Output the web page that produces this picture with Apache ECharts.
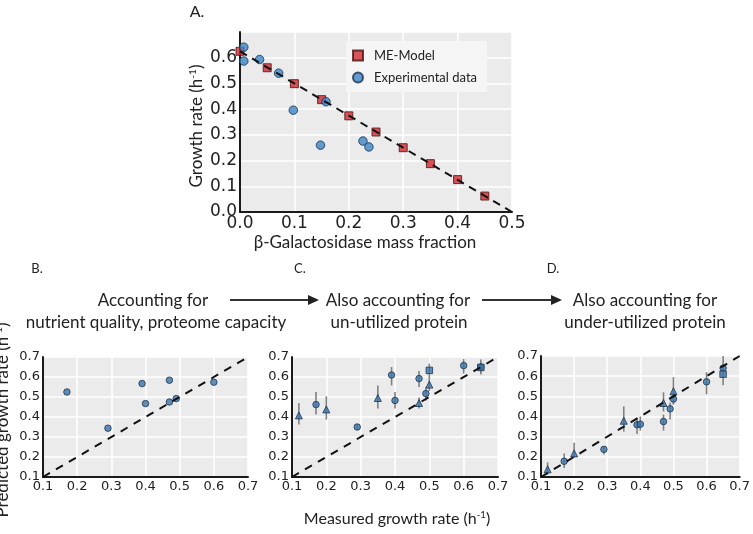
<!DOCTYPE html>
<html>
<head>
<meta charset="utf-8">
<script src="https://cdn.jsdelivr.net/npm/echarts@6/dist/echarts.min.js"></script>
<style>
  html, body { margin: 0; padding: 0; background: #fff; }
  #chart { width: 753px; height: 534px; }
</style>
</head>
<body>
<div id="chart"></div>
<script>
// panel A: growth rate vs beta-galactosidase mass fraction
const modelA = [[0, 0.625], [0.05, 0.561], [0.1, 0.499], [0.15, 0.437], [0.2, 0.374],
  [0.25, 0.311], [0.3, 0.25], [0.35, 0.188], [0.4, 0.126], [0.45, 0.062]];
const exprA = [[0.007, 0.641], [0.007, 0.587], [0.036, 0.593], [0.071, 0.54], [0.098, 0.396],
  [0.158, 0.429], [0.148, 0.26], [0.226, 0.276], [0.237, 0.253]];
const fitA = [[0, 0.625], [0.5, 0]];

// panels B-D: predicted vs measured, [x, y] or [x, y, low, high]
const panelB = [[0.17, 0.525], [0.29, 0.344], [0.39, 0.567], [0.40, 0.467],
  [0.47, 0.584], [0.47, 0.475], [0.49, 0.492], [0.60, 0.574]];
const circlesC = [[0.17, 0.462, 0.413, 0.525], [0.29, 0.35, 0.335, 0.365], [0.39, 0.61, 0.558, 0.65],
  [0.40, 0.483, 0.442, 0.525], [0.47, 0.592, 0.55, 0.63], [0.49, 0.517, 0.483, 0.547],
  [0.60, 0.657, 0.617, 0.69], [0.65, 0.65, 0.613, 0.687]];
const trianglesC = [[0.12, 0.408, 0.363, 0.47], [0.20, 0.438, 0.387, 0.503], [0.35, 0.495, 0.442, 0.557],
  [0.47, 0.47, 0.442, 0.497], [0.50, 0.562, 0.53, 0.6]];
const squaresC = [[0.50, 0.633, 0.6, 0.667], [0.65, 0.648, 0.62, 0.675]];
const circlesD = [[0.17, 0.178, 0.145, 0.217], [0.29, 0.237, 0.212, 0.253], [0.39, 0.359, 0.313, 0.39],
  [0.40, 0.362, 0.33, 0.4], [0.47, 0.375, 0.33, 0.41], [0.49, 0.438, 0.385, 0.47],
  [0.50, 0.487, 0.46, 0.51], [0.60, 0.572, 0.51, 0.62], [0.65, 0.64, 0.61, 0.7]];
const trianglesD = [[0.12, 0.138, 0.112, 0.173], [0.20, 0.217, 0.195, 0.27], [0.35, 0.379, 0.325, 0.45],
  [0.47, 0.467, 0.425, 0.52], [0.50, 0.525, 0.46, 0.595]];
const squaresD = [[0.65, 0.61, 0.555, 0.65]];
const diagonal = [[0.1, 0.1], [0.7, 0.7]];

const tickFont = 'DejaVu Sans';
const textFont = 'Lato';
const dotBlue = '#3b74a6';

let chart = echarts.init(document.getElementById('chart'));

function axisPair(idx, min, max, size, hideTopY) {
  let common = {
    gridIndex: idx, type: 'value', min: min, max: max, interval: 0.1,
    axisLine: { show: true, onZero: false, lineStyle: { color: '#1a1a1a', width: 2 } },
    axisTick: { show: false },
    splitLine: { show: true, lineStyle: { color: '#ffffff', width: 1.5 } },
  };
  let x = Object.assign({}, common, {
    axisLabel: { fontFamily: tickFont, fontSize: size, color: '#222', margin: 3,
      formatter: v => v.toFixed(1) }
  });
  let y = Object.assign({}, common, {
    axisLabel: { fontFamily: tickFont, fontSize: size, color: '#222', margin: 3,
      formatter: v => (hideTopY && v > 0.65) ? '' : v.toFixed(1) }
  });
  return [x, y];
}

function errBars(idx, arr) {
  return {
    type: 'custom', xAxisIndex: idx, yAxisIndex: idx, data: arr, z: 2,
    encode: { x: 0, y: 1 },
    renderItem: (params, api) => {
      let p1 = api.coord([api.value(0), api.value(2)]);
      let p2 = api.coord([api.value(0), api.value(3)]);
      return { type: 'line', shape: { x1: p1[0], y1: p1[1], x2: p2[0], y2: p2[1] },
        style: { stroke: '#808080', lineWidth: 1.6 } };
    }
  };
}

function dots(idx, arr, symbol, size) {
  return {
    type: 'scatter', xAxisIndex: idx, yAxisIndex: idx, data: arr, z: 3,
    symbol: symbol, symbolSize: size,
    itemStyle: { color: dotBlue, borderColor: '#1c3550', borderWidth: 1 }
  };
}

function diag(idx) {
  return {
    type: 'line', xAxisIndex: idx, yAxisIndex: idx, data: diagonal, z: 4,
    symbol: 'none', lineStyle: { color: '#111', width: 2, type: [8, 7] }
  };
}

let aA = axisPair(0, 0, 0.7, 17, true);
aA[0].max = 0.5;
let aB = axisPair(1, 0.1, 0.7, 13, false);
let aC = axisPair(2, 0.1, 0.7, 13, false);
let aD = axisPair(3, 0.1, 0.7, 13, false);

function txt(x, y, text, size, extra) {
  return Object.assign({
    type: 'text', x: x, y: y,
    style: Object.assign({ text: text, fontFamily: textFont, fontSize: size, fill: '#222',
      align: 'center', verticalAlign: 'middle',
      rich: { sup: { fontSize: size * 0.6, verticalAlign: 'top', padding: [0, 0, size * 0.5, 0],
        fontFamily: textFont, fill: '#222' } } }, extra || {})
  });
}

function arrow(x1, x2, y) {
  return [
    { type: 'line', shape: { x1: x1, y1: y, x2: x2 - 8, y2: y }, style: { stroke: '#333', lineWidth: 2 } },
    { type: 'polygon', shape: { points: [[x2, y], [x2 - 11, y - 5], [x2 - 11, y + 5]] }, style: { fill: '#222' } }
  ];
}

chart.setOption({
  animation: false,
  grid: [
    { left: 240, top: 32, width: 272, height: 180, show: true, backgroundColor: '#ebebeb', borderWidth: 0 },
    { left: 43, top: 357, width: 205, height: 120, show: true, backgroundColor: '#ebebeb', borderWidth: 0 },
    { left: 292, top: 357, width: 206, height: 120, show: true, backgroundColor: '#ebebeb', borderWidth: 0 },
    { left: 541, top: 356, width: 211, height: 121, show: true, backgroundColor: '#ebebeb', borderWidth: 0 }
  ],
  xAxis: [aA[0], aB[0], aC[0], aD[0]],
  yAxis: [aA[1], aB[1], aC[1], aD[1]],
  legend: {
    left: 346, top: 41, orient: 'vertical', itemGap: 9, itemWidth: 10, itemHeight: 10,
    padding: [8, 10, 8, 6], backgroundColor: '#f5f5f5',
    textStyle: { fontFamily: textFont, fontSize: 13, color: '#222', padding: [0, 0, 0, 6] },
    data: ['ME-Model', 'Experimental data']
  },
  series: [
    { name: 'ME-Model', type: 'scatter', xAxisIndex: 0, yAxisIndex: 0, data: modelA, z: 3,
      symbol: 'rect', symbolSize: 8,
      itemStyle: { color: '#d12a2f', borderColor: '#4a1010', borderWidth: 1 } },
    { name: 'Experimental data', type: 'scatter', xAxisIndex: 0, yAxisIndex: 0, data: exprA, z: 3,
      symbol: 'circle', symbolSize: 8.5,
      itemStyle: { color: '#3d85c6', borderColor: '#17324d', borderWidth: 1 } },
    { type: 'line', xAxisIndex: 0, yAxisIndex: 0, data: fitA, z: 4, symbol: 'none',
      lineStyle: { color: '#111', width: 2, type: [8, 6] } },

    dots(1, panelB, 'circle', 6.5),
    diag(1),

    errBars(2, circlesC), errBars(2, trianglesC), errBars(2, squaresC),
    dots(2, circlesC, 'circle', 6.5), dots(2, trianglesC, 'triangle', 7), dots(2, squaresC, 'rect', 6.5),
    diag(2),

    errBars(3, circlesD), errBars(3, trianglesD), errBars(3, squaresD),
    dots(3, circlesD, 'circle', 6.5), dots(3, trianglesD, 'triangle', 7), dots(3, squaresD, 'rect', 6.5),
    diag(3)
  ],
  graphic: [
    txt(197, 12, 'A.', 16),
    txt(197, 126, 'Growth rate (h{sup|-1})', 17, {}),
    txt(365, 243, 'β-Galactosidase mass fraction', 17),
    txt(37, 269, 'B.', 13),
    txt(300, 269, 'C.', 13),
    txt(553, 269, 'D.', 13),
    txt(153, 301, 'Accounting for', 17),
    txt(156, 323, 'nutrient quality, proteome capacity', 17),
    txt(398, 301, 'Also accounting for', 17),
    txt(399, 323, 'un-utilized protein', 17),
    txt(645, 301, 'Also accounting for', 17),
    txt(645, 323, 'under-utilized protein', 17),
    txt(397, 519, 'Measured growth rate (h{sup|-1})', 16),
    txt(3, 420, 'Predicted growth rate (h{sup|-1})', 17)
  ].concat(arrow(230, 319, 300), arrow(482, 562, 300))
});

// rotate the two vertical axis titles
let opt = chart.getOption();
let g = opt.graphic[0].elements;
chart.setOption({
  graphic: [
    { id: g[1].id, rotation: Math.PI / 2 },
    { id: g[13].id, rotation: Math.PI / 2 }
  ]
});
</script>
</body>
</html>
